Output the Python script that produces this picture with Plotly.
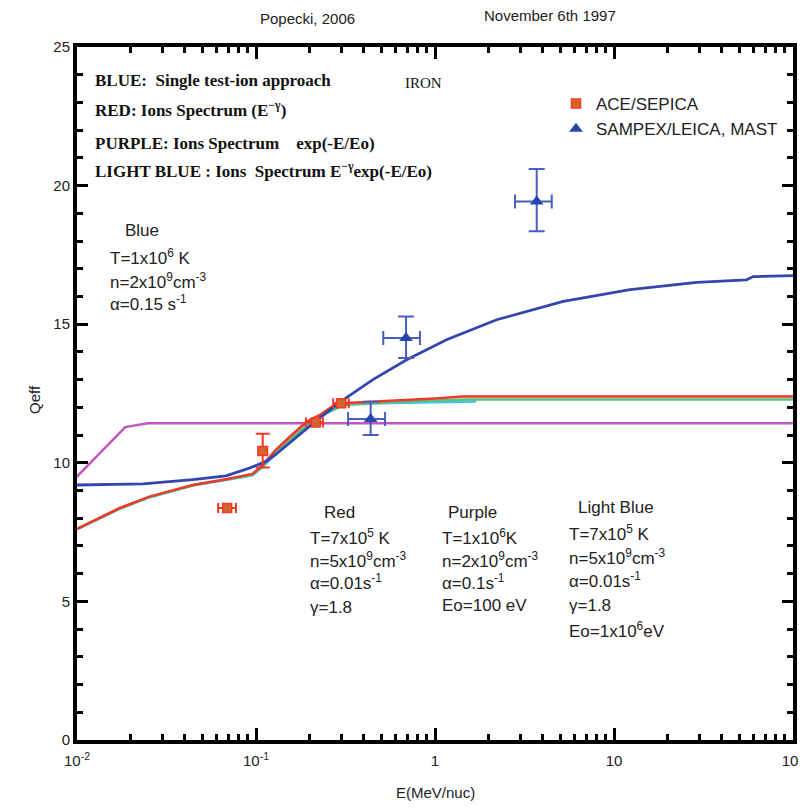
import plotly.graph_objects as go

# ---------------- data ----------------
blue_E = [0.01, 0.0233, 0.0443, 0.068, 0.0918, 0.114, 0.129, 0.169, 0.209, 0.259, 0.307,
          0.45, 0.695, 1.16, 2.21, 5.21, 12.3, 29, 55, 60, 100]
blue_Q = [9.2, 9.24, 9.39, 9.53, 9.81, 10.05, 10.3, 10.95, 11.43, 11.91, 12.27,
          13.0, 13.72, 14.44, 15.16, 15.82, 16.25, 16.51, 16.6, 16.72, 16.75]

red_E = [0.01, 0.0172, 0.0254, 0.0443, 0.068, 0.0957, 0.109, 0.129, 0.155, 0.192, 0.228,
         0.27, 0.3, 0.4, 0.6, 1.0, 1.43, 100]
red_Q = [7.62, 8.36, 8.78, 9.2, 9.41, 9.6, 9.93, 10.47, 10.95, 11.49, 11.73,
         12.05, 12.15, 12.2, 12.25, 12.32, 12.39, 12.39]

green_E = [0.01, 0.0172, 0.0254, 0.0443, 0.068, 0.0957, 0.109, 0.129, 0.16, 0.2, 0.24,
           0.29, 0.33, 0.6, 1.5, 100]
green_Q = [7.62, 8.35, 8.77, 9.19, 9.4, 9.58, 9.88, 10.4, 10.92, 11.47, 11.75,
           12.02, 12.1, 12.2, 12.28, 12.28]

cyan_E = [0.01, 0.0172, 0.0254, 0.0443, 0.068, 0.0957, 0.109, 0.129, 0.16, 0.2, 0.24,
          0.29, 0.33, 0.5, 1.0, 1.7]
cyan_Q = [7.6, 8.33, 8.75, 9.18, 9.38, 9.55, 9.85, 10.35, 10.9, 11.45, 11.75,
          12.0, 12.1, 12.15, 12.18, 12.21]

purple_E = [0.01, 0.0186, 0.0248, 100]
purple_Q = [9.5, 11.29, 11.43, 11.43]

ace_E = [0.069, 0.109, 0.216, 0.299]
ace_Q = [8.37, 10.43, 11.45, 12.15]
ace_Eminus = [0.0076, 0.006, 0.026, 0.029]
ace_Eplus = [0.0083, 0.0066, 0.021, 0.031]
ace_Qminus = [0.0, 0.6, 0.0, 0.0]
ace_Qplus = [0.0, 0.62, 0.0, 0.0]

sam_E = [0.437, 0.689, 3.70]
sam_Q = [11.58, 14.5, 19.43]
sam_Eminus = [0.11, 0.175, 0.9]
sam_Eplus = [0.089, 0.135, 0.79]
sam_Qminus = [0.58, 0.72, 1.08]
sam_Qplus = [0.62, 0.78, 1.17]

x_tickvals = [0.01, 0.1, 1, 10, 100]
x_ticktext = ["10<sup>-2</sup>", "10<sup>-1</sup>", "1", "10", "10<sup>2</sup>"]
x_minorvals = [round(m * d, 6) for d in [0.01, 0.1, 1, 10] for m in range(2, 10)]
y_tickvals = [0, 5, 10, 15, 20, 25]

# ---------------- figure ----------------
# the page body has an 8px margin, so the figure is shrunk to fit the
# 807x812 window and page positions are converted accordingly
OFF = 8
W, H = 807 - OFF, 812 - 2 * OFF
L, R, T = 69, 14, 39
B = H + OFF - 740
PL, PT = L + OFF, T + OFF          # plot-area corner on the page
PW, PH = W - L - R, H - T - B


def px(x):
    return (x - PL) / PW


def py(y):
    return (PT + PH - y) / PH


fig = go.Figure()
fig.add_trace(go.Scatter(x=purple_E, y=purple_Q, mode="lines",
                         line=dict(color="#c455c4", width=2.5), showlegend=False))
fig.add_trace(go.Scatter(x=cyan_E, y=cyan_Q, mode="lines",
                         line=dict(color="#3fc6e6", width=2.5), showlegend=False))
fig.add_trace(go.Scatter(x=green_E, y=green_Q, mode="lines",
                         line=dict(color="#5dc07a", width=2.5), showlegend=False))
fig.add_trace(go.Scatter(x=red_E, y=red_Q, mode="lines",
                         line=dict(color="#ef3a2a", width=2.5), showlegend=False))
fig.add_trace(go.Scatter(x=blue_E, y=blue_Q, mode="lines",
                         line=dict(color="#3446ae", width=2.8), showlegend=False))

fig.add_trace(go.Scatter(
    x=ace_E, y=ace_Q, mode="markers", name="ACE/SEPICA",
    marker=dict(symbol="square", size=9, color="#d4652e", line=dict(color="#f03a26", width=1.5)),
    error_x=dict(type="data", symmetric=False, array=ace_Eplus, arrayminus=ace_Eminus,
                 color="#f03a26", thickness=2, width=5),
    error_y=dict(type="data", symmetric=False, array=ace_Qplus, arrayminus=ace_Qminus,
                 color="#f03a26", thickness=2, width=7),
))
fig.add_trace(go.Scatter(
    x=sam_E, y=sam_Q, mode="markers", name="SAMPEX/LEICA, MAST",
    marker=dict(symbol="triangle-up", size=12, color="#2646ac"),
    error_x=dict(type="data", symmetric=False, array=sam_Eplus, arrayminus=sam_Eminus,
                 color="#4a5ec0", thickness=2, width=7),
    error_y=dict(type="data", symmetric=False, array=sam_Qplus, arrayminus=sam_Qminus,
                 color="#4a5ec0", thickness=2, width=8),
))

sans = "Liberation Sans Narrow, Arial Narrow, Liberation Sans, Arial"
serif = "Liberation Serif, Times New Roman, serif"

ann = []


def add(text, x, y, size=16, family=sans, anchor="left", color="#222", **kw):
    ann.append(dict(text=text, x=px(x), y=py(y), xref="paper", yref="paper",
                    xanchor=anchor, yanchor="middle", showarrow=False,
                    font=dict(size=size, family=family, color=color), **kw))


add("Popecki, 2006", 307, 18, size=15, anchor="center")
add("November 6th 1997", 550, 15, size=15, anchor="center")

add("<b>BLUE:  Single test-ion approach</b>", 93, 80, size=17, family=serif, color="#111")
add("<b>RED: Ions Spectrum (E<sup>−γ</sup>)</b>", 93, 109, size=17, family=serif, color="#111")
add("<b>PURPLE: Ions Spectrum    exp(-E/Eo)</b>", 93, 143, size=17, family=serif, color="#111")
add("<b>LIGHT BLUE : Ions  Spectrum E<sup>−γ</sup>exp(-E/Eo)</b>", 93, 170, size=17, family=serif, color="#111")
add("IRON", 403, 83, size=15, family=serif, color="#111")

add("Blue", 123, 230, size=17)
add("T=1x10<sup>6</sup> K", 108, 257, size=17)
add("n=2x10<sup>9</sup>cm<sup>-3</sup>", 108, 281, size=17)
add("α=0.15 s<sup>-1</sup>", 108, 303, size=17)

add("Red", 322, 512, size=17)
add("T=7x10<sup>5</sup> K", 308, 537, size=17)
add("n=5x10<sup>9</sup>cm<sup>-3</sup>", 308, 560, size=17)
add("α=0.01s<sup>-1</sup>", 308, 582, size=17)
add("γ=1.8", 308, 607, size=17)

add("Purple", 446, 512, size=17)
add("T=1x10<sup>6</sup>K", 440, 537, size=17)
add("n=2x10<sup>9</sup>cm<sup>-3</sup>", 440, 560, size=17)
add("α=0.1s<sup>-1</sup>", 440, 582, size=17)
add("Eo=100 eV", 440, 605, size=17)

add("Light Blue", 576, 508, size=17)
add("T=7x10<sup>5</sup> K", 567, 533, size=17)
add("n=5x10<sup>9</sup>cm<sup>-3</sup>", 567, 557, size=17)
add("α=0.01s<sup>-1</sup>", 567, 580, size=17)
add("γ=1.8", 567, 605, size=17)
add("Eo=1x10<sup>6</sup>eV", 567, 630, size=17)

add("Qeff", 34, 400, size=15, anchor="center", textangle=-90)
add("E(MeV/nuc)", 435, 793, size=15, anchor="center")

fig.update_layout(
    template="none",
    width=W, height=H, autosize=False,
    margin=dict(l=L, r=R, t=T, b=B, autoexpand=False),
    paper_bgcolor="white", plot_bgcolor="white",
    annotations=ann,
    legend=dict(x=px(556), y=py(86), xanchor="left", yanchor="top",
                bgcolor="rgba(0,0,0,0)", font=dict(size=17, family=sans, color="#222"),
                itemwidth=30, tracegroupgap=0, borderwidth=0),
    font=dict(family=sans, color="#222"),
)
fig.update_xaxes(
    type="log", range=[-2, 2], showgrid=False, zeroline=False, automargin=False,
    showline=True, linewidth=4, linecolor="#000000", mirror="ticks",
    ticks="inside", ticklen=12, tickwidth=3, tickcolor="#000000",
    tickmode="array", tickvals=x_tickvals, ticktext=x_ticktext, ticklabelstandoff=4,
    tickfont=dict(size=15, family=sans, color="#222"),
    minor=dict(tickmode="array", tickvals=x_minorvals, ticks="inside", ticklen=6,
               tickwidth=3, tickcolor="#000000", showgrid=False),
)
fig.update_yaxes(
    range=[0, 25], showgrid=False, zeroline=False, automargin=False,
    showline=True, linewidth=4, linecolor="#000000", mirror="ticks",
    ticks="inside", ticklen=11, tickwidth=3, tickcolor="#000000",
    tickmode="array", tickvals=y_tickvals,
    tickfont=dict(size=15, family=sans, color="#222"),
    minor=dict(dtick=1, ticks="inside", ticklen=6, tickwidth=3, tickcolor="#000000"),
)

fig.write_html("out.html")
